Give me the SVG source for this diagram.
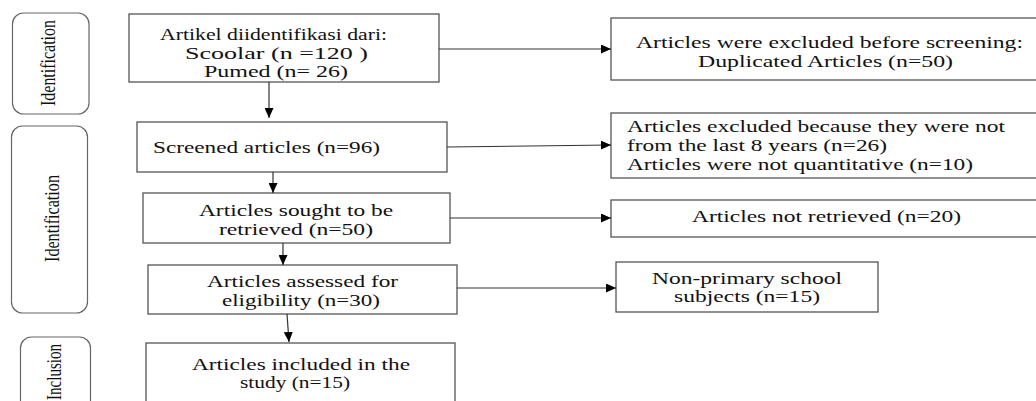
<svg xmlns="http://www.w3.org/2000/svg" width="1036" height="401" viewBox="0 0 1036 401">
<style>
.box{fill:#fff;stroke:#555;stroke-width:1.3}
.lab{fill:#fff;stroke:#666;stroke-width:1.2}
.t{font-family:"Liberation Serif","Times New Roman",serif;font-size:17px;fill:#111}
.v{font-family:"Liberation Serif","Times New Roman",serif;font-size:20px;fill:#111}
.c{stroke:#333;stroke-width:1.2;fill:none;marker-end:url(#ah)}
</style>
<defs>
<marker id="ah" markerUnits="userSpaceOnUse" markerWidth="10" markerHeight="9" refX="10" refY="4.5" orient="auto">
<path d="M0,0 L10,4.5 L0,9 z" fill="#000"/>
</marker>
</defs>
<rect width="1036" height="401" fill="#fff"/>
<g id="label-identification-1">
<rect class="lab" x="12.5" y="13" width="76.5" height="101" rx="11"/>
<text class="v" transform="translate(55,106) rotate(-90)" textLength="86" lengthAdjust="spacingAndGlyphs">Identification</text>
</g>
<g id="label-identification-2">
<rect class="lab" x="11.5" y="126" width="76" height="187" rx="11"/>
<text class="v" transform="translate(59,262) rotate(-90)" textLength="87" lengthAdjust="spacingAndGlyphs">Identification</text>
</g>
<g id="label-inclusion">
<rect class="lab" x="20.5" y="337" width="70" height="80" rx="11"/>
<text class="v" transform="translate(61,400) rotate(-90)" textLength="56" lengthAdjust="spacingAndGlyphs">Inclusion</text>
</g>
<g id="n-identified">
<rect class="box" x="129" y="14" width="310" height="68"/>
<text class="t" x="160" y="40" textLength="227" lengthAdjust="spacingAndGlyphs">Artikel diidentifikasi dari:</text>
<text class="t" x="185" y="59" textLength="183" lengthAdjust="spacingAndGlyphs">Scoolar (n =120 )</text>
<text class="t" x="204" y="77" textLength="144" lengthAdjust="spacingAndGlyphs">Pumed (n= 26)</text>
</g>
<g id="n-excluded-before">
<rect class="box" x="611" y="18" width="440" height="62"/>
<text class="t" x="636" y="48" textLength="387" lengthAdjust="spacingAndGlyphs">Articles were excluded before screening:</text>
<text class="t" x="698" y="67" textLength="255" lengthAdjust="spacingAndGlyphs">Duplicated Articles (n=50)</text>
</g>
<g id="n-screened">
<rect class="box" x="137" y="122" width="310" height="50"/>
<text class="t" x="153" y="153" textLength="227" lengthAdjust="spacingAndGlyphs">Screened articles (n=96)</text>
</g>
<g id="n-excluded-screen">
<rect class="box" x="611" y="113" width="440" height="65"/>
<text class="t" x="627" y="132" textLength="378" lengthAdjust="spacingAndGlyphs">Articles excluded because they were not</text>
<text class="t" x="627" y="151" textLength="260" lengthAdjust="spacingAndGlyphs">from the last 8 years (n=26)</text>
<text class="t" x="627" y="170" textLength="346" lengthAdjust="spacingAndGlyphs">Articles were not quantitative (n=10)</text>
</g>
<g id="n-sought">
<rect class="box" x="143" y="193" width="307" height="50"/>
<text class="t" x="199" y="216" textLength="194" lengthAdjust="spacingAndGlyphs">Articles sought to be</text>
<text class="t" x="219" y="235" textLength="154" lengthAdjust="spacingAndGlyphs">retrieved (n=50)</text>
</g>
<g id="n-not-retrieved">
<rect class="box" x="611" y="200" width="440" height="37"/>
<text class="t" x="692" y="222" textLength="269" lengthAdjust="spacingAndGlyphs">Articles not retrieved (n=20)</text>
</g>
<g id="n-assessed">
<rect class="box" x="148" y="265" width="309" height="49"/>
<text class="t" x="207" y="287" textLength="191" lengthAdjust="spacingAndGlyphs">Articles assessed for</text>
<text class="t" x="222" y="306" textLength="158" lengthAdjust="spacingAndGlyphs">eligibility (n=30)</text>
</g>
<g id="n-non-primary">
<rect class="box" x="616" y="262" width="262" height="50"/>
<text class="t" x="652" y="284" textLength="190" lengthAdjust="spacingAndGlyphs">Non-primary school</text>
<text class="t" x="674" y="302" textLength="146" lengthAdjust="spacingAndGlyphs">subjects (n=15)</text>
</g>
<g id="n-included">
<rect class="box" x="146" y="343" width="309" height="70"/>
<text class="t" x="192" y="370" textLength="218" lengthAdjust="spacingAndGlyphs">Articles included in the</text>
<text class="t" x="240" y="388" textLength="110" lengthAdjust="spacingAndGlyphs">study (n=15)</text>
</g>
<g id="connectors">
<line class="c" x1="269" y1="82" x2="269" y2="118"/>
<line class="c" x1="439" y1="49" x2="611" y2="49"/>
<line class="c" x1="273" y1="172" x2="273" y2="193"/>
<line class="c" x1="447" y1="147" x2="611" y2="145"/>
<line class="c" x1="283" y1="243" x2="283" y2="265"/>
<line class="c" x1="450" y1="218" x2="611" y2="218"/>
<line class="c" x1="287" y1="314" x2="289" y2="342"/>
<line class="c" x1="457" y1="288" x2="616" y2="288"/>
</g>
</svg>
